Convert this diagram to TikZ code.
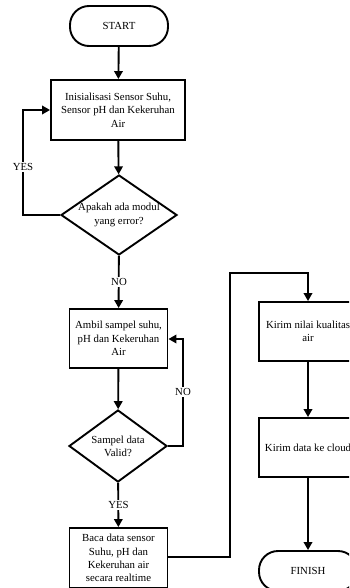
\documentclass[tikz,border=0pt]{standalone}
\usepackage{fontspec}
\setmainfont{Liberation Serif}
\usetikzlibrary{shapes.geometric,arrows.meta}
\begin{document}
\begin{tikzpicture}[x=1pt,y=-1pt,
  every node/.style={font=\fontsize{10.8}{13.3}\selectfont, align=center},
  proc/.style={draw, line width=1.9pt, minimum width=98pt, minimum height=59pt, inner sep=1pt},
  term/.style={draw, line width=1.9pt, rounded corners=19pt, minimum width=98pt, minimum height=40pt},
  dec/.style={draw, line width=1.9pt, diamond, inner sep=0pt},
  conn/.style={line width=1.9pt, -{Triangle[length=8pt,width=8.5pt]}},
  lbl/.style={fill=white, inner sep=1pt}]
\useasboundingbox (0,0) rectangle (349,588);
\clip (0,0) rectangle (349,588);

\node[term] (start) at (119,26) {START};
\node[proc, minimum width=134pt, minimum height=60pt] (init) at (118,110) {Inisialisasi Sensor Suhu,\\Sensor pH dan Kekeruhan\\Air};
\node[dec, minimum width=116pt, minimum height=80pt, aspect=1.45] (d1) at (119,215) {Apakah ada modul\\yang error?};
\node[proc] (ambil) at (118.5,338.5) {Ambil sampel suhu,\\pH dan Kekeruhan\\Air};
\node[dec, minimum width=98pt, minimum height=72pt, aspect=1.36] (d2) at (118,446) {Sampel data\\Valid?};
\node[proc, minimum height=60pt] (baca) at (118.5,558) {Baca data sensor\\Suhu, pH dan\\Kekeruhan air\\secara realtime};
\node[proc] (kirim1) at (308,331.5) {Kirim nilai kualitas\\air};
\node[proc] (kirim2) at (308,447.5) {Kirim data ke cloud};
\node[term] (finish) at (308,571) {FINISH};

\coordinate (yl1) at (23,215);
\coordinate (yl2) at (23,110);
\coordinate (nl1) at (183,446);
\coordinate (nl2) at (183,339);
\coordinate (r1) at (230,557);
\coordinate (r2) at (230,273);
\coordinate (r3) at (308,273);

\draw[conn] (start) -- (init);
\draw[conn] (init) -- (d1);
\draw[conn] (d1.west) -- (yl1) -- (yl2) -- (init.west |- yl2);
\draw[conn] (d1) -- (ambil);
\draw[conn] (ambil) -- (d2);
\draw[conn] (d2.east) -- (nl1) -- (nl2) -- (ambil.east |- nl2);
\draw[conn] (d2) -- (baca);
\draw[conn] (baca.east |- r1) -- (r1) -- (r2) -- (r3) -- (kirim1.north);
\draw[conn] (kirim1) -- (kirim2);
\draw[conn] (kirim2) -- (finish);

\node[lbl] (yes1) at (23,167) {YES};
\node[lbl] (no1) at (119,282) {NO};
\node[lbl] (no2) at (183,392) {NO};
\node[lbl] (yes2) at (118.5,505) {YES};
\end{tikzpicture}
\end{document}
